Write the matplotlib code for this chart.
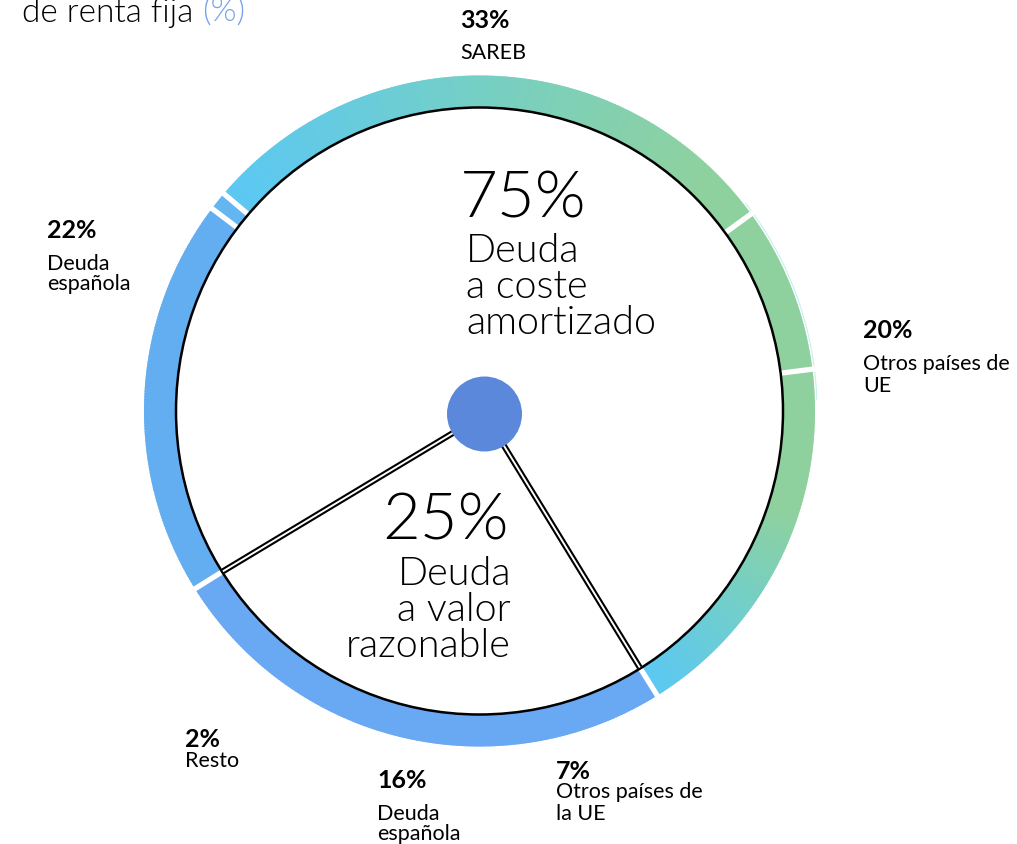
import numpy as np
import matplotlib.pyplot as plt
from matplotlib.patches import Wedge, Circle
from matplotlib.colors import LinearSegmentedColormap

# -----------------------------------
# Inner split of the fixed-income portfolio (%)
SPLIT_LABELS = ['Deuda\na coste\namortizado', 'Deuda\na valor\nrazonable']
SPLIT_VALUES = [75, 25]

# Breakdown labels around the ring (%)
ITEM_VALUES = [33, 20, 7, 16, 2, 22]
ITEM_LABELS = ['SAREB', 'Otros países de\nUE', 'Otros países de\nla UE',
               'Deuda\nespañola', 'Resto', 'Deuda\nespañola']

# Arc shares of the coloured ring, counter-clockwise from the lower right (%)
RING_SHARES = [18.1, 8.0, 28.8, 0.9, 19.2, 25.0]
# -----------------------------------

W, H = 1017, 845
FONT = 'Lato'
LIGHT = 300
CX, CY = 479.5, H - 412        # ring centre (pixel coords, y up)
R_OUT, R_IN = 335.5, 303.5
START = -58.0                  # angle where the 25% sector ends

CYAN = '#5bc8f4'
GREEN = '#8fd19e'
cyan_green = LinearSegmentedColormap.from_list('cg', [CYAN, '#74cfc6', GREEN])


def seg_color(i, ang):
    a = np.radians(ang)
    if i == 0:      # green at the top, cyan towards the bottom
        t = np.clip((np.sin(a) + 0.86) / 0.55, 0, 1)
        return cyan_green(t)
    if i == 1:
        return GREEN
    if i == 2:      # cyan on the left, green on the right
        t = np.clip((np.cos(a) + 0.78) / 1.5, 0, 1)
        return cyan_green(t)
    if i == 3:
        return '#63b6ef'
    if i == 4:
        return '#63aef0'
    return '#69a8f2'


def text_lines(x, y_top, lines, step, **kw):
    # y_top is the baseline of the first line, measured from the top edge
    for k, s in enumerate(lines):
        ax.text(x, H - (y_top + k * step), s, va='baseline', **kw)


fig = plt.figure(figsize=(W / 100, H / 100), dpi=100)
ax = fig.add_axes([0, 0, 1, 1])
ax.set_xlim(0, W)
ax.set_ylim(0, H)
ax.axis('off')

# // Coloured ring, drawn in thin slices so the gradients show
bounds = START + 3.6 * np.concatenate([[0], np.cumsum(RING_SHARES)])
for i in range(len(RING_SHARES)):
    a0, a1 = bounds[i], bounds[i + 1]
    steps = np.linspace(a0, a1, max(int((a1 - a0) * 2), 2) + 1)
    for s0, s1 in zip(steps[:-1], steps[1:]):
        c = seg_color(i, 0.5 * (s0 + s1))
        ax.add_patch(Wedge((CX, CY), R_OUT, s0, s1 + 0.3, width=R_OUT - R_IN,
                           facecolor=c, edgecolor='none', zorder=1))

# white gaps between ring pieces
for b in bounds[:-1]:
    a = np.radians(b)
    ax.plot([CX + (R_IN - 2) * np.cos(a), CX + (R_OUT + 3) * np.cos(a)],
            [CY + (R_IN - 2) * np.sin(a), CY + (R_OUT + 3) * np.sin(a)],
            color='white', lw=3.8, solid_capstyle='butt', zorder=2)

# faint outline along the green part
arc = np.radians(np.linspace(2, 38, 60))
ax.plot(CX + (R_OUT + 2) * np.cos(arc), CY + (R_OUT + 2) * np.sin(arc),
        color='#c9eff0', lw=0.8, zorder=1)

# // Inner white disc with black outline
ax.add_patch(Circle((CX, CY), R_IN, facecolor='white', edgecolor='black',
                    lw=1.8, zorder=3))

# // Radial double lines splitting 75 / 25
DX, DY = CX + 5, CY - 3        # centre dot
split_angles = [START, START - 3.6 * SPLIT_VALUES[1]]
for b in split_angles:
    a = np.radians(b)
    xs = [DX, CX + (R_IN - 1) * np.cos(a)]
    ys = [DY, CY + (R_IN - 1) * np.sin(a)]
    ax.plot(xs, ys, color='black', lw=4.4, solid_capstyle='butt', zorder=4)
    ax.plot(xs, ys, color='white', lw=1.4, solid_capstyle='butt', zorder=5)

ax.add_patch(Circle((DX, DY), 37.5, facecolor='#5b88da', edgecolor='none', zorder=6))

# // Centre texts
ax.text(460, H - 217, '{}%'.format(SPLIT_VALUES[0]), fontsize=47, family=FONT,
        weight=LIGHT, va='baseline', ha='left', zorder=7)
text_lines(466, 262, SPLIT_LABELS[0].split('\n'), 36, fontsize=28.5, family=FONT,
           weight=LIGHT, ha='left', zorder=7)
ax.text(509, H - 540, '{}%'.format(SPLIT_VALUES[1]), fontsize=47, family=FONT,
        weight=LIGHT, va='baseline', ha='right', zorder=7)
text_lines(511, 585, SPLIT_LABELS[1].split('\n'), 36, fontsize=28.5, family=FONT,
           weight=LIGHT, ha='right', zorder=7)

# // Outer labels: (x, value baseline, first label baseline, line step)
label_pos = [(460, 28, 59, 20), (863, 338, 370, 22), (556, 779, 798, 22),
             (377, 788, 820, 20), (185, 747, 767, 20), (47, 238, 270, 20)]
for val, lab, (x, yv, yl, st) in zip(ITEM_VALUES, ITEM_LABELS, label_pos):
    ax.text(x, H - yv, '{}%'.format(val), fontsize=18, family=FONT,
            weight='bold', va='baseline', ha='left')
    text_lines(x, yl, lab.split('\n'), st, fontsize=15.5, family=FONT, ha='left')

# // Title (upper line runs off the top)
t = ax.text(22, H - 22, 'de renta fija ', fontsize=24, family=FONT, weight=LIGHT,
            va='baseline')
fig.canvas.draw()
bb = t.get_window_extent()
ax.text(bb.x1, H - 22, '(%)', fontsize=24, family=FONT, color='#79a2ea',
        weight=LIGHT, va='baseline')

fig.savefig('out.png', dpi=100)
